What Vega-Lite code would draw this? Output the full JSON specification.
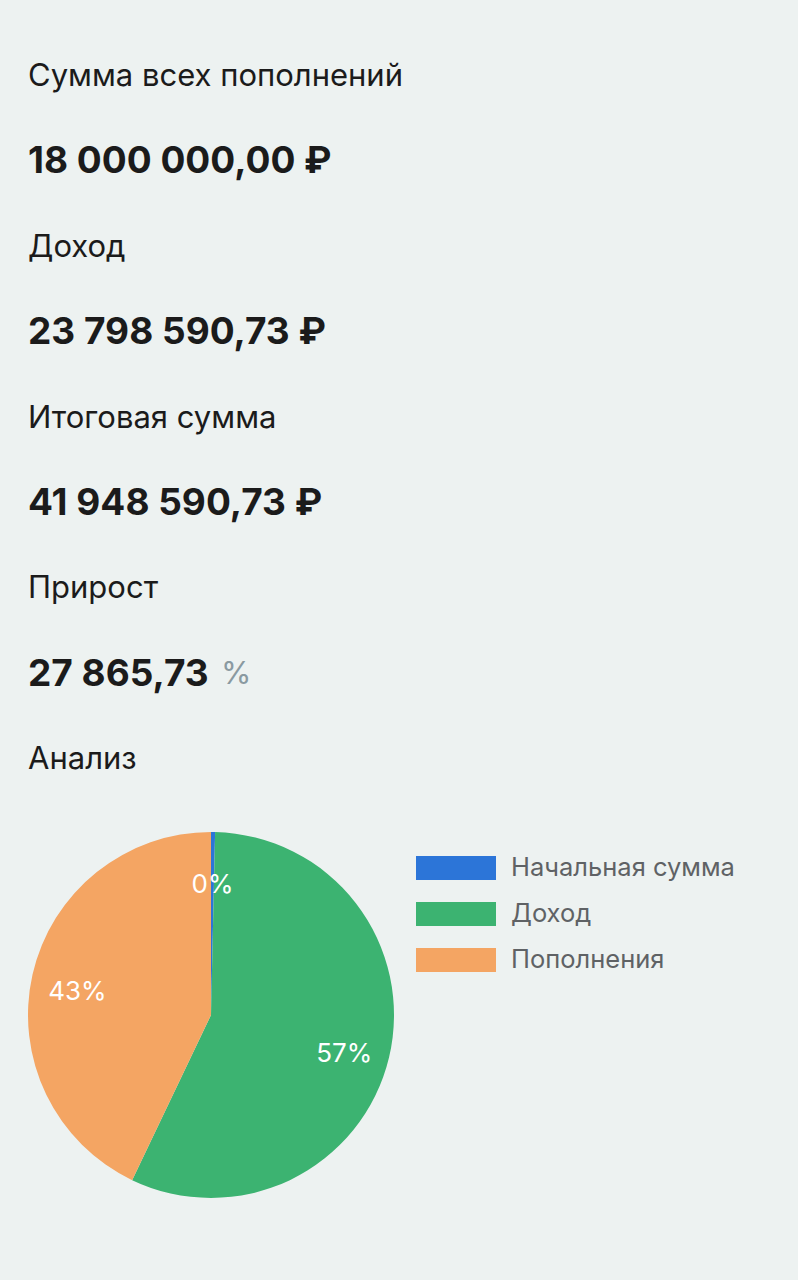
{
  "$schema": "https://vega.github.io/schema/vega-lite/v6.json",
  "background": "#edf2f1",
  "padding": {"left": 28, "top": 0, "right": 10, "bottom": 82},
  "config": {"view": {"stroke": null}, "font": "Inter"},
  "spacing": 32,
  "vconcat": [
    {
      "width": 760,
      "height": 800,
      "data": {"values": [
        {"row": 0, "text": "Сумма всех пополнений", "kind": "caption"},
        {"row": 1, "text": "18 000 000,00 ₽", "kind": "value"},
        {"row": 2, "text": "Доход", "kind": "caption"},
        {"row": 3, "text": "23 798 590,73 ₽", "kind": "value"},
        {"row": 4, "text": "Итоговая сумма", "kind": "caption"},
        {"row": 5, "text": "41 948 590,73 ₽", "kind": "value"},
        {"row": 6, "text": "Прирост", "kind": "caption"},
        {"row": 7, "text": "27 865,73", "kind": "value"},
        {"row": 7, "text": "%", "kind": "unit"},
        {"row": 8, "text": "Анализ", "kind": "caption"}
      ]},
      "encoding": {
        "y": {"field": "row", "type": "ordinal", "scale": {"type": "point", "padding": 0, "range": [77, 760]}, "axis": null},
        "x": {"value": 0},
        "text": {"field": "text"}
      },
      "layer": [
        {"transform": [{"filter": "datum.kind === 'caption'"}],
         "mark": {"type": "text", "align": "left", "baseline": "middle", "fontSize": 31, "color": "#1b1b1b"}},
        {"transform": [{"filter": "datum.kind === 'value'"}],
         "mark": {"type": "text", "align": "left", "baseline": "middle", "fontSize": 37, "fontWeight": "bold", "color": "#1b1b1b"}},
        {"transform": [{"filter": "datum.kind === 'unit'"}],
         "mark": {"type": "text", "align": "left", "baseline": "middle", "fontSize": 31, "dx": 193, "color": "#8a9aa1"}}
      ]
    },
    {
      "width": 366,
      "height": 366,
      "data": {"values": [
        {"category": "Начальная сумма", "value": 150000, "order": 1, "label": "0%"},
        {"category": "Доход", "value": 23798590.73, "order": 2, "label": "57%"},
        {"category": "Пополнения", "value": 18000000, "order": 3, "label": "43%"}
      ]},
      "encoding": {
        "theta": {"field": "value", "type": "quantitative", "stack": true},
        "order": {"field": "order", "type": "quantitative"}
      },
      "layer": [
        {
          "mark": {"type": "arc", "outerRadius": 183},
          "encoding": {
            "color": {
              "field": "category", "type": "nominal",
              "scale": {"domain": ["Начальная сумма", "Доход", "Пополнения"], "range": ["#2c75d8", "#3cb371", "#f4a563"]},
              "legend": {
                "orient": "none", "legendX": 408, "legendY": 848, "title": null,
                "symbolType": "M-2,-0.6H2V0.6H-2Z", "symbolSize": 1600, "symbolStrokeWidth": 0,
                "labelFontSize": 25.5, "labelColor": "#5f6265", "labelOffset": 35, "labelLimit": 400,
                "rowPadding": 12, "padding": 0
              }
            }
          }
        },
        {
          "mark": {"type": "text", "radius": 137, "fontSize": 26, "baseline": "middle", "dy": 7},
          "encoding": {"text": {"field": "label"}, "color": {"value": "#ffffff"}}
        }
      ]
    }
  ]
}
